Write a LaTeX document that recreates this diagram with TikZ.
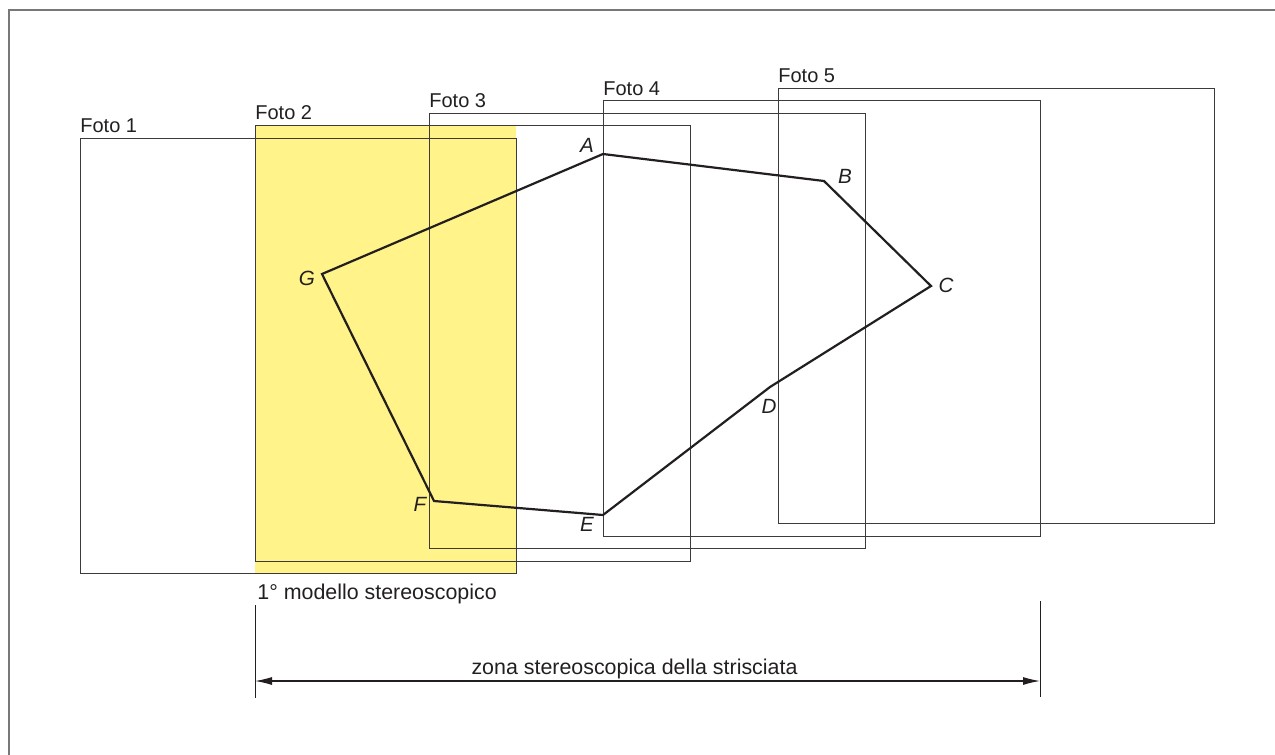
\documentclass[tikz,border=0pt]{standalone}
\usepackage{fontspec}
\setmainfont{Liberation Sans}
\usetikzlibrary{arrows.meta,calc}
\definecolor{hl}{RGB}{255,243,138}
\definecolor{ln}{RGB}{35,31,32}
\definecolor{rl}{RGB}{60,58,58}
\definecolor{fr}{RGB}{120,120,120}
\begin{document}
\begin{tikzpicture}[x=0.5pt,y=-0.5pt,
  photo/.style={draw=rl,line width=0.45pt},
  poly/.style={draw=ln,line width=1.1pt,line join=miter},
  lbl/.style={font=\fontsize{10}{12}\selectfont, text=ln, inner sep=0pt},
  biglbl/.style={font=\fontsize{10.7}{12}\selectfont, text=ln, inner sep=0pt},
  ptlbl/.style={font=\fontsize{10.3}{12}\selectfont\itshape, text=ln, inner sep=0pt},
  framel/.style={draw=fr,line width=0.8pt},
  dimline/.style={draw=ln,line width=0.5pt},
  dimarrow/.style={draw=ln,line width=0.55pt,{Latex[length=8.5pt,width=4pt]}-{Latex[length=8.5pt,width=4pt]}}]
\useasboundingbox (0,0) rectangle (1275,755);
% frame
\draw[framel] (9,755) -- (9,10) -- (1275,10);
% stereo model highlight
\fill[hl] (255,125) rectangle (516,573);
% photos
\draw[photo] (80,138) rectangle (516,573);
\draw[photo] (255,125) rectangle (690,561);
\draw[photo] (429,113) rectangle (865,548);
\draw[photo] (603,100) rectangle (1040,536);
\draw[photo] (778,88) rectangle (1214,523);
\node[lbl,anchor=base west] (t1) at (80,132) {Foto 1};
\node[lbl,anchor=base west] (t2) at (255,119) {Foto 2};
\node[lbl,anchor=base west] (t3) at (429,107) {Foto 3};
\node[lbl,anchor=base west] (t4) at (603,95) {Foto 4};
\node[lbl,anchor=base west] (t5) at (778,83) {Foto 5};
% polygon
\coordinate (A) at (603,154);
\coordinate (B) at (824,181);
\coordinate (C) at (931,286);
\coordinate (D) at (770,387);
\coordinate (E) at (603,515);
\coordinate (F) at (434,501);
\coordinate (G) at (322,274);
\draw[poly] (A) -- (B) -- (C) -- (D) -- (E) -- (F) -- (G) -- cycle;
\node[ptlbl] (lA) at (587,145) {A};
\node[ptlbl] (lB) at (845,176) {B};
\node[ptlbl] (lC) at (946,285) {C};
\node[ptlbl] (lD) at (769,406) {D};
\node[ptlbl] (lE) at (587,524) {E};
\node[ptlbl] (lF) at (420,504) {F};
\node[ptlbl] (lG) at (307,278) {G};
% labels below
\node[biglbl,anchor=base west] (m1) at (257,599) {1° modello stereoscopico};
% dimension
\coordinate (Lt) at (255,605);
\coordinate (Lb) at (255,698);
\coordinate (Rt) at (1040,601);
\coordinate (Rb) at (1040,697);
\coordinate (La) at (255,681);
\coordinate (Ra) at (1040,681);
\draw[dimline] (Lt) -- (Lb);
\draw[dimline] (Rt) -- (Rb);
\draw[dimarrow] (La) -- (Ra);
\node[biglbl,anchor=base] (zs) at (634.5,674) {zona stereoscopica della strisciata};
\end{tikzpicture}
\end{document}
